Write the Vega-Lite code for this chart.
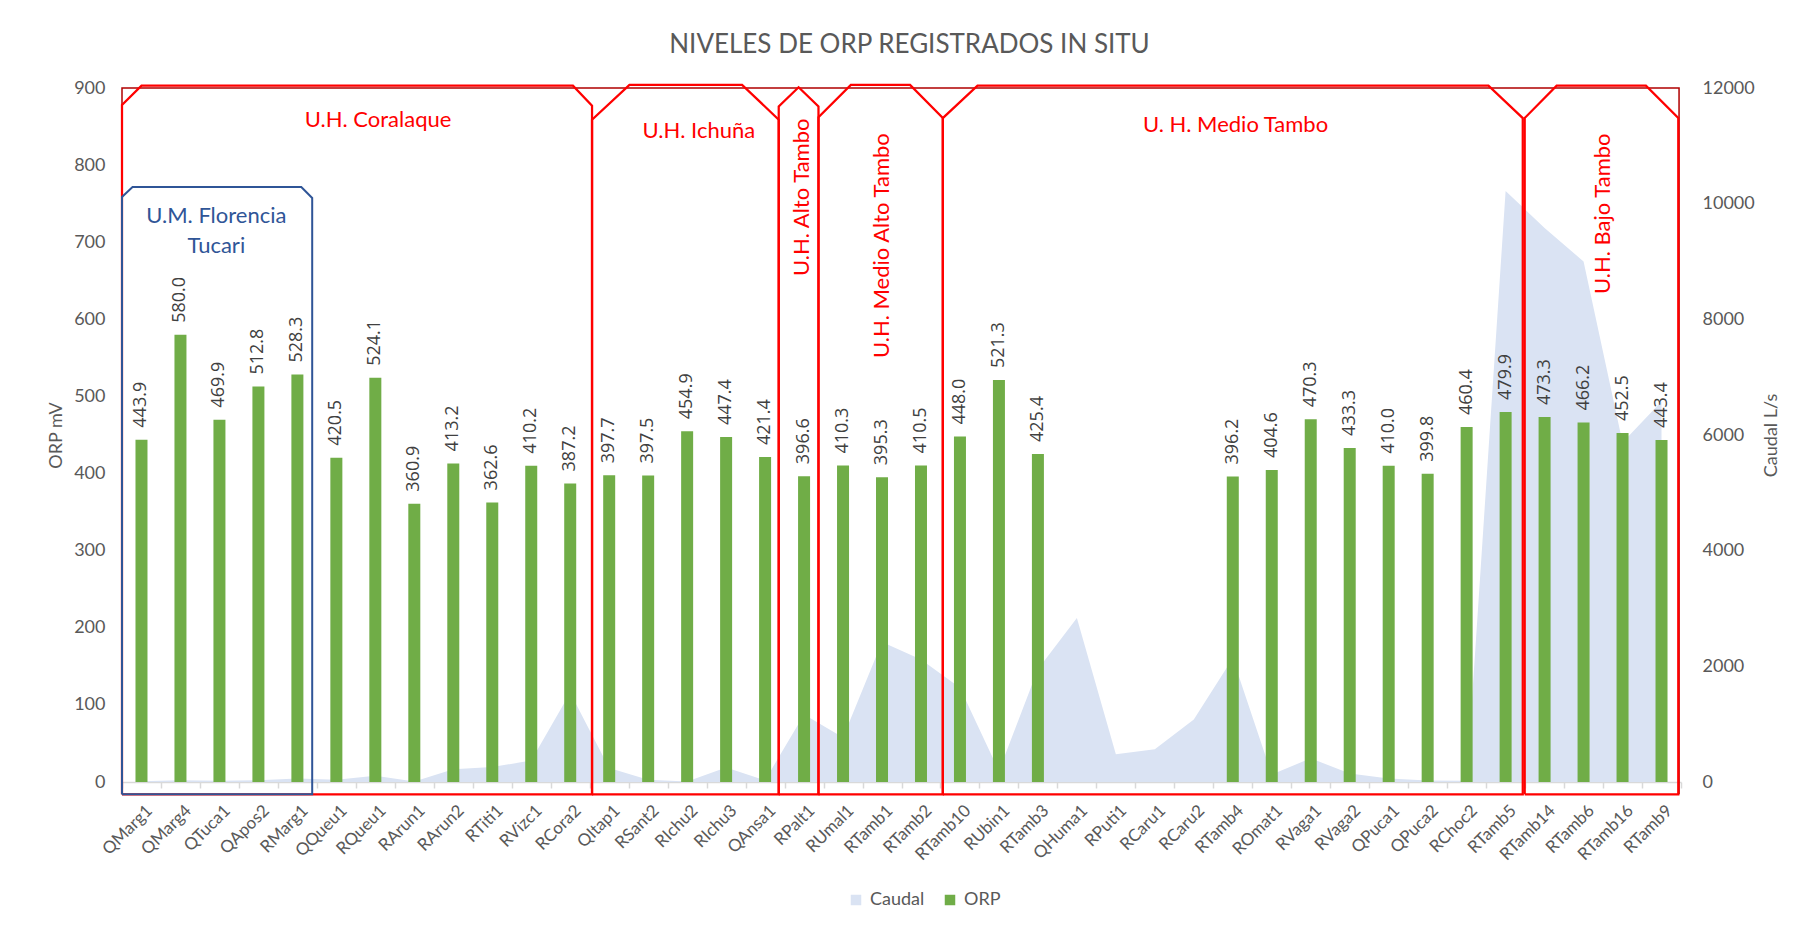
{
  "$schema": "https://vega.github.io/schema/vega-lite/v6.json",
  "autosize": {"type": "none"},
  "padding": {"left": 122, "top": 88, "right": 135, "bottom": 146},
  "width": 1559,
  "height": 694,
  "background": "white",
  "config": {"font": "Lato", "view": {"stroke": null}},
  "title": {"text": "NIVELES DE ORP REGISTRADOS IN SITU", "fontSize": 26, "font": "Lato", "fontWeight": "normal", "color": "#595959", "anchor": "middle", "frame": "group", "offset": 0, "baseline": "alphabetic", "dx": 8},
  "datasets": {
    "puntos": [
      {"punto": "QMarg1", "ORP": 443.9, "Caudal": 15},
      {"punto": "QMarg4", "ORP": 580.0, "Caudal": 30},
      {"punto": "QTuca1", "ORP": 469.9, "Caudal": 20},
      {"punto": "QApos2", "ORP": 512.8, "Caudal": 30},
      {"punto": "RMarg1", "ORP": 528.3, "Caudal": 60},
      {"punto": "QQueu1", "ORP": 420.5, "Caudal": 40},
      {"punto": "RQueu1", "ORP": 524.1, "Caudal": 110},
      {"punto": "RArun1", "ORP": 360.9, "Caudal": 10},
      {"punto": "RArun2", "ORP": 413.2, "Caudal": 220},
      {"punto": "RTiti1", "ORP": 362.6, "Caudal": 260},
      {"punto": "RVizc1", "ORP": 410.2, "Caudal": 370},
      {"punto": "RCora2", "ORP": 387.2, "Caudal": 1545},
      {"punto": "QItap1", "ORP": 397.7, "Caudal": 240},
      {"punto": "RSant2", "ORP": 397.5, "Caudal": 40},
      {"punto": "RIchu2", "ORP": 454.9, "Caudal": 10},
      {"punto": "RIchu3", "ORP": 447.4, "Caudal": 250},
      {"punto": "QAnsa1", "ORP": 421.4, "Caudal": 30},
      {"punto": "RPalt1", "ORP": 396.6, "Caudal": 1165},
      {"punto": "RUmal1", "ORP": 410.3, "Caudal": 770},
      {"punto": "RTamb1", "ORP": 395.3, "Caudal": 2420},
      {"punto": "RTamb2", "ORP": 410.5, "Caudal": 2120},
      {"punto": "RTamb10", "ORP": 448.0, "Caudal": 1630},
      {"punto": "RUbin1", "ORP": 521.3, "Caudal": 190},
      {"punto": "RTamb3", "ORP": 425.4, "Caudal": 1950},
      {"punto": "QHuma1", "ORP": null, "Caudal": 2835},
      {"punto": "RPuti1", "ORP": null, "Caudal": 480},
      {"punto": "RCaru1", "ORP": null, "Caudal": 565},
      {"punto": "RCaru2", "ORP": null, "Caudal": 1080},
      {"punto": "RTamb4", "ORP": 396.2, "Caudal": 2140},
      {"punto": "ROmat1", "ORP": 404.6, "Caudal": 130},
      {"punto": "RVaga1", "ORP": 470.3, "Caudal": 410},
      {"punto": "RVaga2", "ORP": 433.3, "Caudal": 145},
      {"punto": "QPuca1", "ORP": 410.0, "Caudal": 60},
      {"punto": "QPuca2", "ORP": 399.8, "Caudal": 25},
      {"punto": "RChoc2", "ORP": 460.4, "Caudal": 20},
      {"punto": "RTamb5", "ORP": 479.9, "Caudal": 10220},
      {"punto": "RTamb14", "ORP": 473.3, "Caudal": 9580},
      {"punto": "RTamb6", "ORP": 466.2, "Caudal": 9000},
      {"punto": "RTamb16", "ORP": 452.5, "Caudal": 5870},
      {"punto": "RTamb9", "ORP": 443.4, "Caudal": 6580}
    ],
    "cajas": [
      {"tipo": "marco", "caja": "marco", "orden": 1, "pos": 0, "nivel": -16},
      {"tipo": "marco", "caja": "marco", "orden": 2, "pos": 0, "nivel": 900},
      {"tipo": "marco", "caja": "marco", "orden": 3, "pos": 39.95, "nivel": 900},
      {"tipo": "marco", "caja": "marco", "orden": 4, "pos": 39.95, "nivel": -16},

      {"tipo": "uh", "caja": "Coralaque", "orden": 1, "pos": 0, "nivel": -16},
      {"tipo": "uh", "caja": "Coralaque", "orden": 2, "pos": 0, "nivel": 878},
      {"tipo": "uh", "caja": "Coralaque", "orden": 3, "pos": 0.5, "nivel": 903},
      {"tipo": "uh", "caja": "Coralaque", "orden": 4, "pos": 11.57, "nivel": 903},
      {"tipo": "uh", "caja": "Coralaque", "orden": 5, "pos": 12.06, "nivel": 877},
      {"tipo": "uh", "caja": "Coralaque", "orden": 6, "pos": 12.06, "nivel": -16},
      {"tipo": "uh", "caja": "Coralaque", "orden": 7, "pos": 0, "nivel": -16},

      {"tipo": "uh", "caja": "Ichuna", "orden": 1, "pos": 12.06, "nivel": -16},
      {"tipo": "uh", "caja": "Ichuna", "orden": 2, "pos": 12.06, "nivel": 859},
      {"tipo": "uh", "caja": "Ichuna", "orden": 3, "pos": 13.02, "nivel": 904},
      {"tipo": "uh", "caja": "Ichuna", "orden": 4, "pos": 15.91, "nivel": 904},
      {"tipo": "uh", "caja": "Ichuna", "orden": 5, "pos": 16.85, "nivel": 859},
      {"tipo": "uh", "caja": "Ichuna", "orden": 6, "pos": 16.85, "nivel": -16},
      {"tipo": "uh", "caja": "Ichuna", "orden": 7, "pos": 12.06, "nivel": -16},

      {"tipo": "uh", "caja": "AltoTambo", "orden": 1, "pos": 16.85, "nivel": -16},
      {"tipo": "uh", "caja": "AltoTambo", "orden": 2, "pos": 16.85, "nivel": 876},
      {"tipo": "uh", "caja": "AltoTambo", "orden": 3, "pos": 17.36, "nivel": 901},
      {"tipo": "uh", "caja": "AltoTambo", "orden": 4, "pos": 17.87, "nivel": 876},
      {"tipo": "uh", "caja": "AltoTambo", "orden": 5, "pos": 17.87, "nivel": -16},
      {"tipo": "uh", "caja": "AltoTambo", "orden": 6, "pos": 16.85, "nivel": -16},

      {"tipo": "uh", "caja": "MedioAltoTambo", "orden": 1, "pos": 17.87, "nivel": -16},
      {"tipo": "uh", "caja": "MedioAltoTambo", "orden": 2, "pos": 17.87, "nivel": 862},
      {"tipo": "uh", "caja": "MedioAltoTambo", "orden": 3, "pos": 18.7, "nivel": 904},
      {"tipo": "uh", "caja": "MedioAltoTambo", "orden": 4, "pos": 20.22, "nivel": 904},
      {"tipo": "uh", "caja": "MedioAltoTambo", "orden": 5, "pos": 21.06, "nivel": 861},
      {"tipo": "uh", "caja": "MedioAltoTambo", "orden": 6, "pos": 21.06, "nivel": -16},
      {"tipo": "uh", "caja": "MedioAltoTambo", "orden": 7, "pos": 17.87, "nivel": -16},

      {"tipo": "uh", "caja": "MedioTambo", "orden": 1, "pos": 21.06, "nivel": -16},
      {"tipo": "uh", "caja": "MedioTambo", "orden": 2, "pos": 21.06, "nivel": 861},
      {"tipo": "uh", "caja": "MedioTambo", "orden": 3, "pos": 21.95, "nivel": 903},
      {"tipo": "uh", "caja": "MedioTambo", "orden": 4, "pos": 35.06, "nivel": 903},
      {"tipo": "uh", "caja": "MedioTambo", "orden": 5, "pos": 35.94, "nivel": 861},
      {"tipo": "uh", "caja": "MedioTambo", "orden": 6, "pos": 35.94, "nivel": -16},
      {"tipo": "uh", "caja": "MedioTambo", "orden": 7, "pos": 21.06, "nivel": -16},

      {"tipo": "uh", "caja": "BajoTambo", "orden": 1, "pos": 35.99, "nivel": -16},
      {"tipo": "uh", "caja": "BajoTambo", "orden": 2, "pos": 35.99, "nivel": 861},
      {"tipo": "uh", "caja": "BajoTambo", "orden": 3, "pos": 36.81, "nivel": 903},
      {"tipo": "uh", "caja": "BajoTambo", "orden": 4, "pos": 39.1, "nivel": 903},
      {"tipo": "uh", "caja": "BajoTambo", "orden": 5, "pos": 39.93, "nivel": 861},
      {"tipo": "uh", "caja": "BajoTambo", "orden": 6, "pos": 39.93, "nivel": -16},
      {"tipo": "uh", "caja": "BajoTambo", "orden": 7, "pos": 35.99, "nivel": -16},

      {"tipo": "um", "caja": "Florencia", "orden": 1, "pos": 0, "nivel": -16},
      {"tipo": "um", "caja": "Florencia", "orden": 2, "pos": 0, "nivel": 758.6},
      {"tipo": "um", "caja": "Florencia", "orden": 3, "pos": 0.27, "nivel": 771.5},
      {"tipo": "um", "caja": "Florencia", "orden": 4, "pos": 4.6, "nivel": 771.5},
      {"tipo": "um", "caja": "Florencia", "orden": 5, "pos": 4.88, "nivel": 757.3},
      {"tipo": "um", "caja": "Florencia", "orden": 6, "pos": 4.88, "nivel": -16},
      {"tipo": "um", "caja": "Florencia", "orden": 7, "pos": 0, "nivel": -16}
    ],
    "etiquetas": [
      {"tipo": "h", "texto": "U.H. Coralaque", "pos": 6.57, "nivel": 859},
      {"tipo": "h", "texto": "U.H. Ichuña", "pos": 14.8, "nivel": 843.7},
      {"tipo": "h", "texto": "U. H. Medio Tambo", "pos": 28.57, "nivel": 852.4},
      {"tipo": "v", "texto": "U.H. Alto Tambo", "pos": 17.44, "nivel": 758.3},
      {"tipo": "v", "texto": "U.H. Medio Alto Tambo", "pos": 19.49, "nivel": 695.6},
      {"tipo": "v", "texto": "U.H. Bajo Tambo", "pos": 37.99, "nivel": 736.9},
      {"tipo": "um", "texto": "U.M. Florencia\nTucari", "pos": 2.42, "nivel": 733.4}
    ]
  },
  "layer": [
    {
      "data": {"name": "puntos"},
      "layer": [
        {
          "mark": {"type": "area", "color": "#DAE3F3", "opacity": 1},
          "encoding": {
            "x": {"field": "punto", "type": "nominal", "sort": null, "bandPosition": 0.5,
                  "scale": {"domain": ["QMarg1","QMarg4","QTuca1","QApos2","RMarg1","QQueu1","RQueu1","RArun1","RArun2","RTiti1","RVizc1","RCora2","QItap1","RSant2","RIchu2","RIchu3","QAnsa1","RPalt1","RUmal1","RTamb1","RTamb2","RTamb10","RUbin1","RTamb3","QHuma1","RPuti1","RCaru1","RCaru2","RTamb4","ROmat1","RVaga1","RVaga2","QPuca1","QPuca2","RChoc2","RTamb5","RTamb14","RTamb6","RTamb16","RTamb9"], "paddingInner": 0, "paddingOuter": 0}},
            "y": {"field": "Caudal", "type": "quantitative", "scale": {"domain": [0, 12000], "nice": false},
                  "axis": {"orient": "right", "title": "Caudal L/s", "format": "d", "values": [0,2000,4000,6000,8000,10000,12000], "grid": false, "domain": false, "ticks": false, "tickSize": 0, "labelPadding": 21, "labelFontSize": 18, "labelColor": "#595959", "titleFontSize": 18, "titleFontWeight": "normal", "titleColor": "#595959", "titlePadding": 26, "titleAngle": 270, "labelFont": "Lato", "titleFont": "Lato"}},
            "color": {"datum": "Caudal", "type": "nominal", "scale": {"domain": ["Caudal", "ORP"], "range": ["#DAE3F3", "#70AD47"]},
                      "legend": {"orient": "none", "legendX": 725, "legendY": 803, "direction": "horizontal", "title": null, "symbolType": "square", "symbolSize": 110, "labelFontSize": 18, "labelColor": "#595959", "columnPadding": 16, "labelOffset": 5, "symbolOpacity": 1, "symbolStrokeWidth": 0}}
          }
        },
        {
          "mark": {"type": "bar", "width": 12},
          "encoding": {
            "x": {"field": "punto", "type": "nominal", "sort": null,
                  "axis": {"title": null, "labelAngle": -45, "labelAlign": "right", "labelBaseline": "top", "labelFontSize": 17, "labelColor": "#595959", "labelPadding": 14, "labelOffset": 2, "domainColor": "#D9D9D9", "domainWidth": 1.5, "tickColor": "#D9D9D9", "tickWidth": 1.5, "tickSize": 6, "tickBand": "extent", "grid": false, "labelFont": "Lato"}},
            "y": {"field": "ORP", "type": "quantitative", "scale": {"domain": [0, 900], "nice": false},
                  "axis": {"orient": "left", "title": "ORP mV", "values": [0,100,200,300,400,500,600,700,800,900], "grid": false, "domain": false, "ticks": false, "tickSize": 0, "labelPadding": 17, "labelFontSize": 18, "labelColor": "#595959", "titleFontSize": 18, "titleFontWeight": "normal", "titleColor": "#595959", "titlePadding": 8, "labelFont": "Lato", "titleFont": "Lato"}},
            "color": {"datum": "ORP", "type": "nominal"}
          }
        },
        {
          "mark": {"type": "text", "angle": 270, "align": "left", "baseline": "middle", "dx": 12, "fontSize": 18, "color": "#404040", "font": "Open Sans"},
          "encoding": {
            "x": {"field": "punto", "type": "nominal", "sort": null},
            "y": {"field": "ORP", "type": "quantitative", "scale": {"domain": [0, 900], "nice": false}, "axis": null},
            "text": {"field": "ORP", "type": "quantitative", "format": ".1f"}
          }
        }
      ],
      "resolve": {"scale": {"y": "independent"}}
    },
    {
      "layer": [
        {
          "data": {"name": "cajas"},
          "transform": [{"filter": "datum.tipo == 'marco'"}],
          "mark": {"type": "line", "color": "#B00000", "strokeWidth": 1.5},
          "encoding": {
            "x": {"field": "pos", "type": "quantitative", "scale": {"domain": [0, 40], "nice": false, "zero": false}, "axis": null},
            "y": {"field": "nivel", "type": "quantitative", "scale": {"domain": [0, 900], "nice": false, "zero": false}, "axis": null},
            "detail": {"field": "caja"},
            "order": {"field": "orden", "type": "quantitative"}
          }
        },
        {
          "data": {"name": "cajas"},
          "transform": [{"filter": "datum.tipo == 'uh'"}],
          "mark": {"type": "line", "color": "#FF0000", "strokeWidth": 2.25},
          "encoding": {
            "x": {"field": "pos", "type": "quantitative"},
            "y": {"field": "nivel", "type": "quantitative"},
            "detail": {"field": "caja"},
            "order": {"field": "orden", "type": "quantitative"}
          }
        },
        {
          "data": {"name": "cajas"},
          "transform": [{"filter": "datum.tipo == 'um'"}],
          "mark": {"type": "line", "color": "#2F5597", "strokeWidth": 2},
          "encoding": {
            "x": {"field": "pos", "type": "quantitative"},
            "y": {"field": "nivel", "type": "quantitative"},
            "detail": {"field": "caja"},
            "order": {"field": "orden", "type": "quantitative"}
          }
        },
        {
          "data": {"name": "etiquetas"},
          "transform": [{"filter": "datum.tipo == 'h'"}],
          "mark": {"type": "text", "color": "#FF0000", "fontSize": 22, "align": "center", "baseline": "middle", "font": "Lato"},
          "encoding": {
            "x": {"field": "pos", "type": "quantitative"},
            "y": {"field": "nivel", "type": "quantitative"},
            "text": {"field": "texto"}
          }
        },
        {
          "data": {"name": "etiquetas"},
          "transform": [{"filter": "datum.tipo == 'v'"}],
          "mark": {"type": "text", "color": "#FF0000", "fontSize": 22, "align": "center", "baseline": "middle", "angle": 270, "font": "Lato"},
          "encoding": {
            "x": {"field": "pos", "type": "quantitative"},
            "y": {"field": "nivel", "type": "quantitative"},
            "text": {"field": "texto"}
          }
        },
        {
          "data": {"name": "etiquetas"},
          "transform": [{"filter": "datum.tipo == 'um'"}, {"calculate": "split(datum.texto, '\\n')", "as": "lineas"}],
          "mark": {"type": "text", "color": "#2F5597", "fontSize": 22, "align": "center", "baseline": "middle", "lineHeight": 30, "font": "Lato"},
          "encoding": {
            "x": {"field": "pos", "type": "quantitative"},
            "y": {"field": "nivel", "type": "quantitative"},
            "text": {"field": "lineas"}
          }
        }
      ]
    }
  ],
  "resolve": {"scale": {"x": "independent", "y": "independent"}}
}
